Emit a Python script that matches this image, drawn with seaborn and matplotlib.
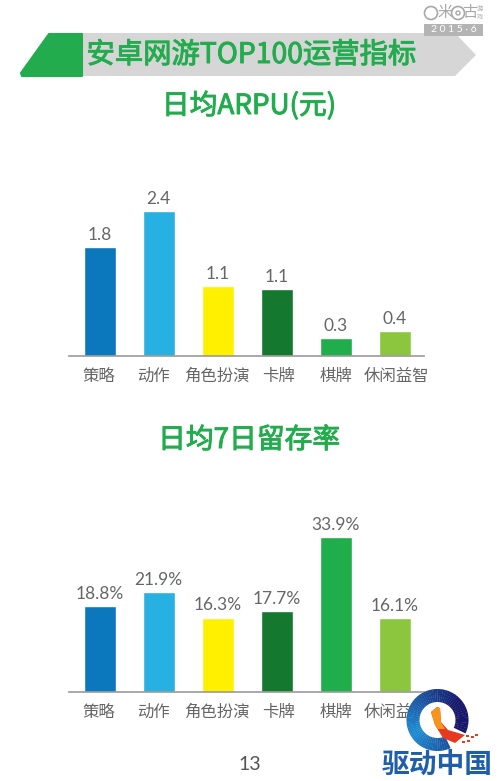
import matplotlib
matplotlib.use("Agg")
import matplotlib.patheffects as pe
import matplotlib.pyplot as plt
import numpy as np
import pandas as pd
import seaborn as sns
from matplotlib.patches import Circle, Polygon, Rectangle, Wedge

# Données
categories = ["策略", "动作", "角色扮演", "卡牌", "棋牌", "休闲益智"]
arpu_values = [1.81, 2.42, 1.17, 1.11, 0.30, 0.42]
arpu_labels = ["1.8", "2.4", "1.1", "1.1", "0.3", "0.4"]
retention_values = [18.8, 21.9, 16.3, 17.7, 33.9, 16.1]
retention_labels = ["18.8%", "21.9%", "16.3%", "17.7%", "33.9%", "16.1%"]
bar_colors = ["#0b78bd", "#27b0e2", "#fff000", "#14782f", "#20ae4d", "#8cc63f"]
# décalage des libellés par rapport aux barres (en unités de catégorie)
tick_shift = [-0.02, -0.09, -0.02, 0.03, 0.0, 0.03]

GREEN = "#22ac4e"
GREY_TEXT = "#666666"
W, H = 500, 781

sns.set_theme(style="white")
plt.rcParams["font.family"] = ["Noto Sans CJK SC", "DejaVu Sans"]


def draw_bars(fig, top_px, bottom_px, values, labels, px_per_unit):
    ax = fig.add_axes([69 / W, 1 - bottom_px / H, 355 / W, (bottom_px - top_px) / H])
    df = pd.DataFrame({"categorie": categories, "valeur": values})
    sns.barplot(data=df, x="categorie", y="valeur", hue="categorie", palette=bar_colors,
                width=0.54, legend=False, ax=ax, saturation=1)
    ax.set_xlim(-0.52, 5.495)
    ax.set_ylim(0, (bottom_px - top_px) / px_per_unit)
    ax.set_xlabel(""); ax.set_ylabel("")
    ax.set_yticks([])
    ax.set_xticks([i + s for i, s in enumerate(tick_shift)])
    ax.set_xticklabels(categories, fontsize=11.8, color=GREY_TEXT)
    ax.tick_params(axis="x", length=0, pad=8.5)
    sns.despine(ax=ax, left=True)
    ax.spines["bottom"].set_color("#9a9a9a")
    ax.spines["bottom"].set_linewidth(1.2)
    ax.patch.set_alpha(0)
    for i, (v, lab) in enumerate(zip(values, labels)):
        ax.annotate(lab, (i, v), xytext=(0, 3), textcoords="offset points", ha="center", va="bottom",
                    fontsize=12.5, color=GREY_TEXT, family=["Lato", "DejaVu Sans"])
    return ax


def green_title(ov, x, y, text, size):
    t = ov.text(x, y, text, color=GREEN, fontsize=size, ha="center", va="center")
    t.set_path_effects([pe.withStroke(linewidth=0.7, foreground=GREEN)])


def draw_header(ov):
    ov.add_patch(Polygon([(82, 33), (455, 33), (476, 55), (455, 76), (82, 76)], color="#d6d6d6", lw=0))
    ov.add_patch(Polygon([(49, 34), (82, 34), (82, 76), (22, 76), (21, 73)], facecolor=GREEN,
                         edgecolor=GREEN, lw=1.5, joinstyle="round"))
    green_title(ov, 251.5, 55, "安卓网游TOP100运营指标", 20.4)
    green_title(ov, 249, 106, "日均ARPU(元)", 20)
    green_title(ov, 249, 440, "日均7日留存率", 20)
    ov.text(250, 764, "13", color="#555555", fontsize=14, ha="center", va="center",
            family=["Lato", "DejaVu Sans"])


def draw_stamp(ov):
    grey = "#a8a8a8"
    ov.add_patch(Rectangle((424, 24), 59, 12, color="#b4b4b4", lw=0))
    ov.text(453.5, 30, "2 0 1 5 · 6", color="white", fontsize=7.5, ha="center", va="center",
            family=["Lato", "DejaVu Sans"])
    ov.add_patch(Circle((431, 13), 6.5, fill=False, ec=grey, lw=1.2))
    ov.text(445, 13, "米", color=grey, fontsize=11, ha="center", va="center")
    ov.add_patch(Circle((458, 13), 6.5, fill=False, ec=grey, lw=1.2))
    ov.add_patch(Circle((458, 13), 2, fill=False, ec=grey, lw=1))
    ov.text(470, 13, "古", color=grey, fontsize=11, ha="center", va="center")
    ov.text(480, 9, "游", color=grey, fontsize=4.5, ha="center", va="center")
    ov.text(480, 17, "戏", color=grey, fontsize=4.5, ha="center", va="center")


def draw_logo(ov):
    cx, cy = 437.5, 720
    ov.add_patch(Circle((cx, cy), 31, color="white", lw=0, zorder=2))
    # anneau en dégradé, bleu clair à gauche vers marine à droite (ouvert en bas à droite)
    c0 = np.array([0.12, 0.55, 0.82])
    c1 = np.array([0.09, 0.09, 0.42])
    start, span, n = 65, 320, 64
    for k in range(n):
        a0 = start + k * span / n
        t = min(abs(a0 + span / n / 2 - 150) / 170, 1)
        col = c0 * (1 - t) + c1 * t
        ov.add_patch(Wedge((cx, cy), 31, a0, a0 + span / n + 0.6, width=13, color=tuple(col), lw=0, zorder=3))
    ov.add_patch(Polygon([(431, 712), (437, 707), (440, 708), (441, 722), (448, 730), (465, 735),
                          (455, 743), (443, 738), (435, 725)], color="#e63a1e", lw=0, zorder=4))
    ov.add_patch(Polygon([(431, 712), (437, 707), (440, 708), (441, 722), (445, 729), (438, 729), (435, 725)],
                         color="#f7941d", lw=0, zorder=5))
    for x, y in [(466, 735), (471, 736), (475, 734), (462, 741), (467, 740)]:
        ov.add_patch(Rectangle((x, y), 2.5, 2, color="#e63a1e", lw=0, zorder=5))
    ov.text(437, 765, "驱动中国", color="#1f5ea8", fontsize=20, fontweight="bold", ha="center", va="center", zorder=5)


fig = plt.figure(figsize=(W / 100, H / 100), dpi=100)
draw_bars(fig, 190, 356, arpu_values, arpu_labels, 60)
draw_bars(fig, 520, 691.7, retention_values, retention_labels, 4.55)

overlay = fig.add_axes([0, 0, 1, 1])
overlay.set_xlim(0, W); overlay.set_ylim(H, 0)
overlay.axis("off")
draw_header(overlay)
draw_stamp(overlay)
draw_logo(overlay)

fig.savefig("out.png", dpi=100)
